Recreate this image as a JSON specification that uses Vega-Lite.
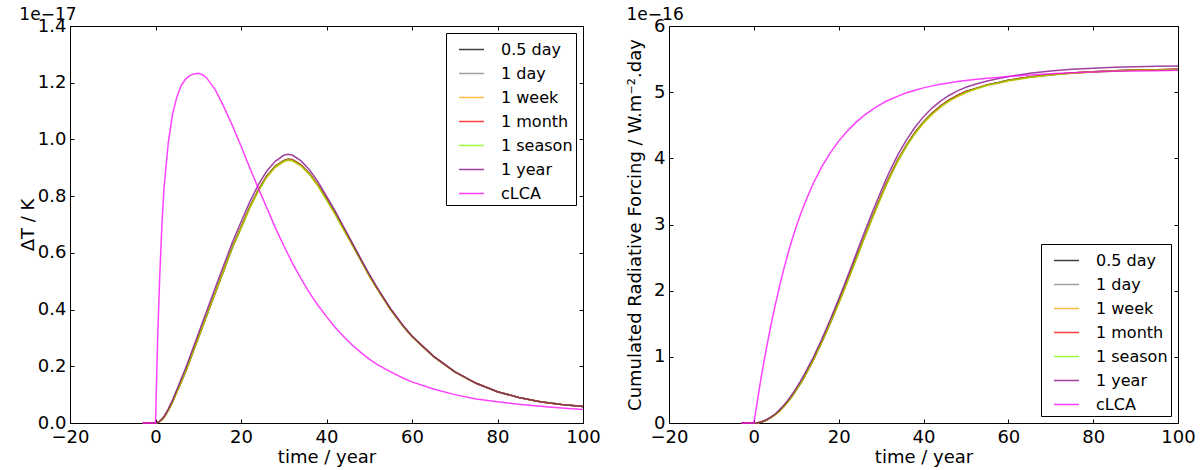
{
  "$schema": "https://vega.github.io/schema/vega-lite/v6.json",
  "padding": {"left": 18, "top": 5, "right": 5, "bottom": 0},
  "background": "white",
  "config": {
    "font": "DejaVu Sans",
    "view": {"stroke": "black", "strokeWidth": 1},
    "axis": {"grid": false, "domain": false, "tickColor": "black", "tickSize": -4, "tickWidth": 1, "labelFontSize": 18, "labelColor": "black", "labelPadding": 8, "labelFlush": false, "labelOverlap": false, "labelBound": false, "titleFontSize": 18, "titleFontWeight": "normal", "titleColor": "black", "titlePadding": 0},
    "axisX": {"labelPadding": 9, "titlePadding": 2},
    "legend": {"strokeColor": "black", "fillColor": "white", "padding": 3, "symbolOffset": 9, "symbolType": "stroke", "symbolSize": 625, "symbolStrokeWidth": 1.5, "labelFontSize": 16, "labelColor": "black", "labelOffset": 16, "rowPadding": 2, "cornerRadius": 0, "offset": 7},
    "title": {"fontSize": 17, "fontWeight": "normal", "color": "black", "anchor": "start", "offset": -7}
  },
  "datasets": {
    "temp": [
      {"t":-3,"a":0,"b":0,"c":0,"d":0,"e":0,"f":0,"g":0},
      {"t":0,"a":0,"b":0,"c":0,"d":0,"e":0,"f":0,"g":0},
      {"t":0.5,"a":0.002,"b":0.002,"c":0.002,"d":0.002,"e":0.002,"f":0.002,"g":0.3},
      {"t":1,"a":0.006,"b":0.006,"c":0.006,"d":0.006,"e":0.006,"f":0.007,"g":0.52},
      {"t":1.5,"a":0.012,"b":0.012,"c":0.012,"d":0.012,"e":0.012,"f":0.014,"g":0.7},
      {"t":2,"a":0.02,"b":0.02,"c":0.02,"d":0.02,"e":0.02,"f":0.023,"g":0.83},
      {"t":3,"a":0.045,"b":0.045,"c":0.045,"d":0.045,"e":0.045,"f":0.05,"g":0.99},
      {"t":4,"a":0.075,"b":0.075,"c":0.075,"d":0.075,"e":0.075,"f":0.082,"g":1.09},
      {"t":5,"a":0.11,"b":0.11,"c":0.11,"d":0.11,"e":0.11,"f":0.118,"g":1.15},
      {"t":6,"a":0.145,"b":0.145,"c":0.145,"d":0.145,"e":0.145,"f":0.155,"g":1.19},
      {"t":7,"a":0.18,"b":0.18,"c":0.18,"d":0.18,"e":0.18,"f":0.192,"g":1.212},
      {"t":8,"a":0.22,"b":0.22,"c":0.22,"d":0.22,"e":0.22,"f":0.232,"g":1.225},
      {"t":9,"a":0.26,"b":0.26,"c":0.26,"d":0.26,"e":0.26,"f":0.273,"g":1.231},
      {"t":10,"a":0.3,"b":0.3,"c":0.3,"d":0.3,"e":0.3,"f":0.314,"g":1.233},
      {"t":11,"a":0.34,"b":0.34,"c":0.34,"d":0.34,"e":0.34,"f":0.355,"g":1.228},
      {"t":12,"a":0.38,"b":0.38,"c":0.38,"d":0.38,"e":0.38,"f":0.396,"g":1.216},
      {"t":14,"a":0.46,"b":0.46,"c":0.46,"d":0.46,"e":0.46,"f":0.478,"g":1.175},
      {"t":16,"a":0.54,"b":0.54,"c":0.54,"d":0.54,"e":0.54,"f":0.558,"g":1.115},
      {"t":18,"a":0.62,"b":0.62,"c":0.62,"d":0.62,"e":0.62,"f":0.637,"g":1.048},
      {"t":20,"a":0.69,"b":0.69,"c":0.686,"d":0.69,"e":0.688,"f":0.709,"g":0.977},
      {"t":22,"a":0.76,"b":0.76,"c":0.756,"d":0.76,"e":0.758,"f":0.778,"g":0.902},
      {"t":24,"a":0.82,"b":0.82,"c":0.816,"d":0.82,"e":0.818,"f":0.839,"g":0.83},
      {"t":26,"a":0.87,"b":0.87,"c":0.866,"d":0.87,"e":0.868,"f":0.888,"g":0.76},
      {"t":28,"a":0.905,"b":0.905,"c":0.901,"d":0.905,"e":0.903,"f":0.923,"g":0.69},
      {"t":30,"a":0.925,"b":0.925,"c":0.921,"d":0.925,"e":0.923,"f":0.944,"g":0.625},
      {"t":31,"a":0.93,"b":0.93,"c":0.926,"d":0.93,"e":0.928,"f":0.948,"g":0.595},
      {"t":32,"a":0.928,"b":0.928,"c":0.924,"d":0.928,"e":0.926,"f":0.945,"g":0.565},
      {"t":34,"a":0.91,"b":0.91,"c":0.906,"d":0.91,"e":0.908,"f":0.925,"g":0.51},
      {"t":36,"a":0.88,"b":0.88,"c":0.876,"d":0.88,"e":0.878,"f":0.893,"g":0.46},
      {"t":38,"a":0.84,"b":0.84,"c":0.836,"d":0.84,"e":0.838,"f":0.851,"g":0.415},
      {"t":40,"a":0.79,"b":0.79,"c":0.786,"d":0.79,"e":0.788,"f":0.8,"g":0.375},
      {"t":42,"a":0.74,"b":0.74,"c":0.736,"d":0.74,"e":0.738,"f":0.748,"g":0.338},
      {"t":44,"a":0.685,"b":0.685,"c":0.681,"d":0.685,"e":0.683,"f":0.692,"g":0.305},
      {"t":46,"a":0.63,"b":0.63,"c":0.63,"d":0.63,"e":0.63,"f":0.636,"g":0.275},
      {"t":48,"a":0.575,"b":0.575,"c":0.575,"d":0.575,"e":0.575,"f":0.58,"g":0.249},
      {"t":50,"a":0.52,"b":0.52,"c":0.52,"d":0.52,"e":0.52,"f":0.525,"g":0.225},
      {"t":52,"a":0.47,"b":0.47,"c":0.47,"d":0.47,"e":0.47,"f":0.474,"g":0.205},
      {"t":55,"a":0.4,"b":0.4,"c":0.4,"d":0.4,"e":0.4,"f":0.403,"g":0.18},
      {"t":58,"a":0.34,"b":0.34,"c":0.34,"d":0.34,"e":0.34,"f":0.342,"g":0.158},
      {"t":60,"a":0.305,"b":0.305,"c":0.305,"d":0.305,"e":0.305,"f":0.307,"g":0.145},
      {"t":65,"a":0.235,"b":0.235,"c":0.235,"d":0.235,"e":0.235,"f":0.236,"g":0.12},
      {"t":70,"a":0.18,"b":0.18,"c":0.18,"d":0.18,"e":0.18,"f":0.181,"g":0.1},
      {"t":75,"a":0.14,"b":0.14,"c":0.14,"d":0.14,"e":0.14,"f":0.14,"g":0.085},
      {"t":80,"a":0.11,"b":0.11,"c":0.11,"d":0.11,"e":0.11,"f":0.11,"g":0.075},
      {"t":85,"a":0.09,"b":0.09,"c":0.09,"d":0.09,"e":0.09,"f":0.09,"g":0.066},
      {"t":90,"a":0.075,"b":0.075,"c":0.075,"d":0.075,"e":0.075,"f":0.075,"g":0.059},
      {"t":95,"a":0.065,"b":0.065,"c":0.065,"d":0.065,"e":0.065,"f":0.065,"g":0.053},
      {"t":100,"a":0.058,"b":0.058,"c":0.058,"d":0.058,"e":0.058,"f":0.058,"g":0.048}
    ],
    "forcing": [
      {"t":-3,"a":0,"b":0,"c":0,"d":0,"e":0,"f":0,"g":0},
      {"t":0,"a":0,"b":0,"c":0,"d":0,"e":0,"f":0,"g":0},
      {"t":0.5,"a":0.001,"b":0.001,"c":0.001,"d":0.001,"e":0.001,"f":0.001,"g":0.2},
      {"t":1,"a":0.005,"b":0.005,"c":0.005,"d":0.005,"e":0.005,"f":0.006,"g":0.4},
      {"t":1.5,"a":0.011,"b":0.011,"c":0.011,"d":0.011,"e":0.011,"f":0.013,"g":0.6},
      {"t":2,"a":0.02,"b":0.02,"c":0.02,"d":0.02,"e":0.02,"f":0.023,"g":0.79},
      {"t":3,"a":0.045,"b":0.045,"c":0.045,"d":0.045,"e":0.045,"f":0.05,"g":1.14},
      {"t":4,"a":0.08,"b":0.08,"c":0.08,"d":0.08,"e":0.08,"f":0.088,"g":1.47},
      {"t":5,"a":0.125,"b":0.125,"c":0.125,"d":0.125,"e":0.125,"f":0.136,"g":1.77},
      {"t":6,"a":0.18,"b":0.18,"c":0.18,"d":0.18,"e":0.18,"f":0.195,"g":2.05},
      {"t":7,"a":0.245,"b":0.245,"c":0.245,"d":0.245,"e":0.245,"f":0.263,"g":2.31},
      {"t":8,"a":0.32,"b":0.32,"c":0.32,"d":0.32,"e":0.32,"f":0.342,"g":2.55},
      {"t":9,"a":0.405,"b":0.405,"c":0.405,"d":0.405,"e":0.405,"f":0.43,"g":2.77},
      {"t":10,"a":0.5,"b":0.5,"c":0.5,"d":0.5,"e":0.5,"f":0.528,"g":2.97},
      {"t":11,"a":0.6,"b":0.6,"c":0.6,"d":0.6,"e":0.6,"f":0.632,"g":3.15},
      {"t":12,"a":0.71,"b":0.71,"c":0.71,"d":0.71,"e":0.71,"f":0.745,"g":3.32},
      {"t":14,"a":0.95,"b":0.95,"c":0.95,"d":0.95,"e":0.95,"f":0.99,"g":3.62},
      {"t":16,"a":1.22,"b":1.22,"c":1.22,"d":1.22,"e":1.22,"f":1.265,"g":3.87},
      {"t":18,"a":1.51,"b":1.51,"c":1.51,"d":1.51,"e":1.51,"f":1.56,"g":4.08},
      {"t":20,"a":1.82,"b":1.82,"c":1.8,"d":1.82,"e":1.81,"f":1.875,"g":4.26},
      {"t":22,"a":2.14,"b":2.14,"c":2.12,"d":2.14,"e":2.13,"f":2.2,"g":4.41},
      {"t":24,"a":2.47,"b":2.47,"c":2.45,"d":2.47,"e":2.46,"f":2.535,"g":4.54},
      {"t":26,"a":2.8,"b":2.8,"c":2.78,"d":2.8,"e":2.79,"f":2.87,"g":4.65},
      {"t":28,"a":3.12,"b":3.12,"c":3.1,"d":3.12,"e":3.11,"f":3.195,"g":4.74},
      {"t":30,"a":3.43,"b":3.43,"c":3.41,"d":3.43,"e":3.42,"f":3.505,"g":4.82},
      {"t":31,"a":3.58,"b":3.58,"c":3.56,"d":3.58,"e":3.57,"f":3.655,"g":4.855},
      {"t":32,"a":3.72,"b":3.72,"c":3.7,"d":3.72,"e":3.71,"f":3.8,"g":4.885},
      {"t":34,"a":3.98,"b":3.98,"c":3.96,"d":3.98,"e":3.97,"f":4.06,"g":4.94},
      {"t":36,"a":4.2,"b":4.2,"c":4.18,"d":4.2,"e":4.19,"f":4.28,"g":4.99},
      {"t":38,"a":4.39,"b":4.39,"c":4.37,"d":4.39,"e":4.38,"f":4.47,"g":5.03},
      {"t":40,"a":4.55,"b":4.55,"c":4.53,"d":4.55,"e":4.54,"f":4.63,"g":5.065},
      {"t":42,"a":4.68,"b":4.68,"c":4.66,"d":4.68,"e":4.67,"f":4.76,"g":5.095},
      {"t":44,"a":4.79,"b":4.79,"c":4.77,"d":4.79,"e":4.78,"f":4.865,"g":5.12},
      {"t":46,"a":4.88,"b":4.88,"c":4.86,"d":4.88,"e":4.87,"f":4.95,"g":5.14},
      {"t":48,"a":4.95,"b":4.95,"c":4.93,"d":4.95,"e":4.94,"f":5.02,"g":5.16},
      {"t":50,"a":5.01,"b":5.01,"c":4.99,"d":5.01,"e":5.0,"f":5.075,"g":5.175},
      {"t":52,"a":5.05,"b":5.05,"c":5.04,"d":5.05,"e":5.045,"f":5.115,"g":5.19},
      {"t":55,"a":5.11,"b":5.11,"c":5.1,"d":5.11,"e":5.105,"f":5.17,"g":5.21},
      {"t":58,"a":5.15,"b":5.15,"c":5.14,"d":5.15,"e":5.145,"f":5.21,"g":5.225},
      {"t":60,"a":5.18,"b":5.18,"c":5.17,"d":5.18,"e":5.175,"f":5.235,"g":5.235},
      {"t":65,"a":5.23,"b":5.23,"c":5.22,"d":5.23,"e":5.225,"f":5.285,"g":5.26},
      {"t":70,"a":5.265,"b":5.265,"c":5.26,"d":5.265,"e":5.26,"f":5.32,"g":5.28},
      {"t":75,"a":5.29,"b":5.29,"c":5.285,"d":5.29,"e":5.285,"f":5.345,"g":5.295},
      {"t":80,"a":5.31,"b":5.31,"c":5.305,"d":5.31,"e":5.305,"f":5.36,"g":5.305},
      {"t":85,"a":5.325,"b":5.325,"c":5.32,"d":5.325,"e":5.32,"f":5.375,"g":5.315},
      {"t":90,"a":5.335,"b":5.335,"c":5.33,"d":5.335,"e":5.33,"f":5.385,"g":5.32},
      {"t":95,"a":5.34,"b":5.34,"c":5.335,"d":5.34,"e":5.335,"f":5.39,"g":5.325},
      {"t":100,"a":5.345,"b":5.345,"c":5.34,"d":5.345,"e":5.34,"f":5.395,"g":5.33}
    ]
  },
  "resolve": {"scale": {"color": "independent"}, "legend": {"color": "independent"}},
  "bounds": "flush",
  "spacing": 86,
  "hconcat": [
    {
      "width": 513,
      "height": 397,
      "title": {"text": "1e\u221217"},
      "data": {"name": "temp"},
      "transform": [{"fold": ["a","b","c","d","e","f","g"], "as": ["series","v"]}],
      "layer": [
        {
          "mark": {"type": "line", "strokeWidth": 1.5, "opacity": 0.75},
          "encoding": {
            "x": {"field": "t", "type": "quantitative", "scale": {"domain": [-20,100], "nice": false, "zero": false}, "axis": {"values": [-20,0,20,40,60,80,100], "title": "time / year"}},
            "y": {"field": "v", "type": "quantitative", "scale": {"domain": [0,1.4], "nice": false}, "axis": {"values": [0,0.2,0.4,0.6,0.8,1.0,1.2,1.4], "format": ".1f", "title": "\u0394T / K"}},
            "color": {"field": "series", "type": "nominal",
              "scale": {"domain": ["a","b","c","d","e","f","g"], "range": ["#000000","#808080","#ffa500","#ff0000","#7cfc00","#800080","#ff00ff"]},
              "legend": {"title": null, "orient": "top-right", "labelExpr": "['0.5 day','1 day','1 week','1 month','1 season','1 year','cLCA'][indexof(['a','b','c','d','e','f','g'], datum.label)]"}}
          }
        },
        {
          "mark": {"type": "point", "opacity": 0},
          "encoding": {
            "x": {"field": "t", "type": "quantitative", "axis": {"orient": "top", "labels": false, "title": null, "values": [-20,0,20,40,60,80,100]}},
            "y": {"field": "v", "type": "quantitative", "axis": {"orient": "right", "labels": false, "title": null, "values": [0,0.2,0.4,0.6,0.8,1.0,1.2,1.4]}}
          }
        }
      ],
      "resolve": {"axis": {"x": "independent", "y": "independent"}}
    },
    {
      "width": 509,
      "height": 397,
      "title": {"text": "1e\u221216"},
      "data": {"name": "forcing"},
      "transform": [{"fold": ["a","b","c","d","e","f","g"], "as": ["series","v"]}],
      "layer": [
        {
          "mark": {"type": "line", "strokeWidth": 1.5, "opacity": 0.75},
          "encoding": {
            "x": {"field": "t", "type": "quantitative", "scale": {"domain": [-20,100], "nice": false, "zero": false}, "axis": {"values": [-20,0,20,40,60,80,100], "title": "time / year"}},
            "y": {"field": "v", "type": "quantitative", "scale": {"domain": [0,6], "nice": false}, "axis": {"values": [0,1,2,3,4,5,6], "format": "d", "title": "Cumulated Radiative Forcing / W.m\u207b\u00b2.day", "titlePadding": 9}},
            "color": {"field": "series", "type": "nominal",
              "scale": {"domain": ["a","b","c","d","e","f","g"], "range": ["#000000","#808080","#ffa500","#ff0000","#7cfc00","#800080","#ff00ff"]},
              "legend": {"title": null, "orient": "bottom-right", "labelExpr": "['0.5 day','1 day','1 week','1 month','1 season','1 year','cLCA'][indexof(['a','b','c','d','e','f','g'], datum.label)]"}}
          }
        },
        {
          "mark": {"type": "point", "opacity": 0},
          "encoding": {
            "x": {"field": "t", "type": "quantitative", "axis": {"orient": "top", "labels": false, "title": null, "values": [-20,0,20,40,60,80,100]}},
            "y": {"field": "v", "type": "quantitative", "axis": {"orient": "right", "labels": false, "title": null, "values": [0,1,2,3,4,5,6]}}
          }
        }
      ],
      "resolve": {"axis": {"x": "independent", "y": "independent"}}
    }
  ]
}
